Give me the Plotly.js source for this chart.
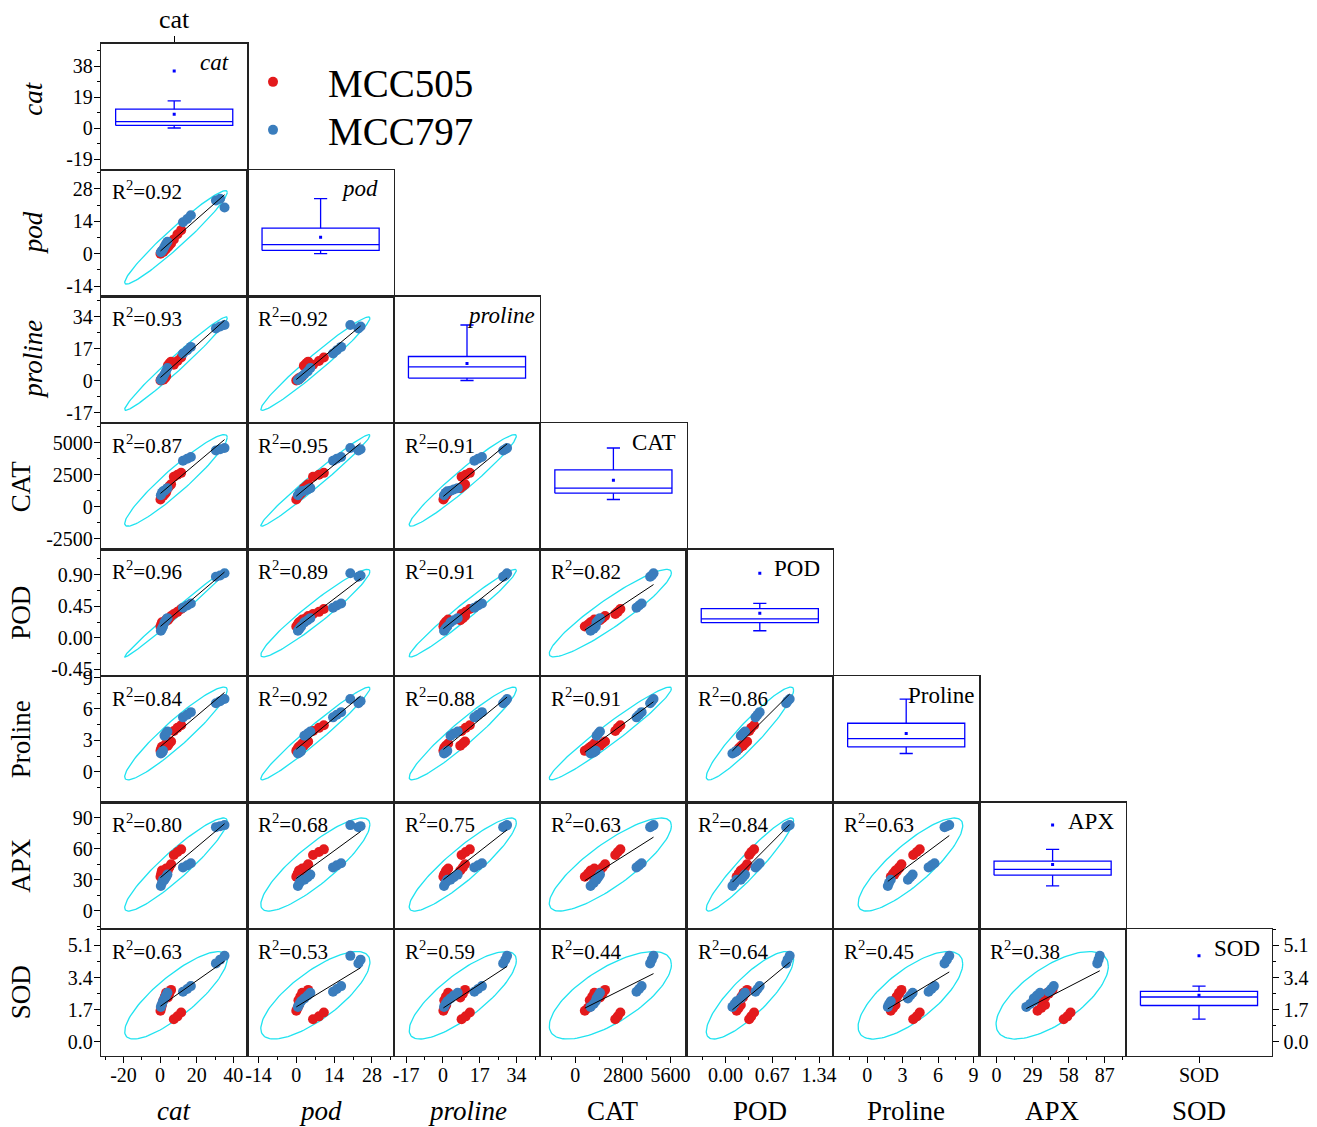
<!DOCTYPE html>
<html>
<head>
<meta charset="utf-8">
<script src="https://cdn.plot.ly/plotly-3.0.1.min.js"></script>
<style>html,body{margin:0;padding:0;background:#fff;}</style>
</head>
<body>
<div id="chart" style="width:1317px;height:1127px;"></div>
<script>
// Variables in matrix order (rows top to bottom, columns left to right)
const variables = ['cat', 'pod', 'proline', 'CAT', 'POD', 'Proline', 'APX', 'SOD'];
const italicVars = ['cat', 'pod', 'proline'];
const strains = ['MCC505', 'MCC797'];

// Strain of each sample: 4 treatments x 3 replicates per strain
const strain = [
  'MCC505','MCC505','MCC505','MCC505','MCC505','MCC505',
  'MCC505','MCC505','MCC505','MCC505','MCC505','MCC505',
  'MCC797','MCC797','MCC797','MCC797','MCC797','MCC797',
  'MCC797','MCC797','MCC797','MCC797','MCC797','MCC797'
];

// Measured values per sample
const cat     = [0.2, 0.6, 1.0, 1.8, 2.6, 3.3, 4.2, 5.0, 6.0, 7.5, 9.5, 11.5,
                 0.4, 1.0, 1.6, 2.4, 3.2, 4.0, 12.5, 14.8, 16.8, 30.5, 32.8, 35.2];
const pod     = [0.0, 0.5, 1.0, 0.8, 1.5, 2.2, 2.8, 3.6, 4.4, 6.2, 8.4, 10.2,
                 0.6, 1.2, 1.8, 3.0, 4.2, 5.2, 13.6, 15.0, 16.6, 23.0, 23.8, 20.0];
const proline = [0.2, 0.8, 1.5, 0.6, 1.4, 2.4, 8.0, 9.2, 10.2, 8.6, 10.5, 12.4,
                 0.5, 1.2, 2.0, 3.5, 5.0, 6.8, 14.5, 16.2, 18.0, 27.8, 28.8, 29.6];
const CAT     = [560, 750, 900, 850, 1000, 1120, 1450, 1600, 1750, 2350, 2500, 2650,
                 900, 1080, 1200, 1250, 1350, 1450, 3600, 3750, 3900, 4400, 4500, 4600];
const POD     = [0.16, 0.19, 0.22, 0.20, 0.23, 0.26, 0.25, 0.28, 0.31, 0.34, 0.37, 0.41,
                 0.10, 0.13, 0.16, 0.22, 0.25, 0.28, 0.43, 0.46, 0.49, 0.87, 0.89, 0.92];
const Proline = [2.0, 2.2, 2.4, 2.3, 2.5, 2.7, 2.5, 2.7, 2.9, 3.9, 4.2, 4.45,
                 1.75, 1.85, 2.0, 3.45, 3.65, 3.85, 5.2, 5.45, 5.7, 6.55, 6.75, 6.95];
const APX     = [33, 36, 39, 35, 38, 41, 39, 42, 45, 54, 57, 59.5,
                 24, 27, 30, 30, 32.5, 35, 42, 44, 46, 81, 82, 83];
const SOD     = [1.65, 1.8, 1.95, 2.2, 2.4, 2.6, 2.35, 2.55, 2.75, 1.2, 1.35, 1.55,
                 1.85, 2.0, 2.15, 2.3, 2.45, 2.6, 2.65, 2.8, 2.95, 4.15, 4.35, 4.55];

// Coefficients of determination printed in each lower panel (row by row)
const r2Pod     = ['0.92'];
const r2Proline = ['0.93', '0.92'];
const r2CAT     = ['0.87', '0.95', '0.91'];
const r2POD     = ['0.96', '0.89', '0.91', '0.82'];
const r2ProlineU= ['0.84', '0.92', '0.88', '0.91', '0.86'];
const r2APX     = ['0.80', '0.68', '0.75', '0.63', '0.84', '0.63'];
const r2SOD     = ['0.63', '0.53', '0.59', '0.44', '0.64', '0.45', '0.38'];

// Tick labels (x axes along the bottom, y axes along the left)
const xTicksCat = ['-20', '0', '20', '40'];
const xTicksPod = ['-14', '0', '14', '28'];
const xTicksProline = ['-17', '0', '17', '34'];
const xTicksCATu = ['0', '2800', '5600'];
const xTicksPODu = ['0.00', '0.67', '1.34'];
const xTicksProlineU = ['0', '3', '6', '9'];
const xTicksAPX = ['0', '29', '58', '87'];
const yTicksCat = ['-19', '0', '19', '38'];
const yTicksPod = ['-14', '0', '14', '28'];
const yTicksProline = ['-17', '0', '17', '34'];
const yTicksCATu = ['-2500', '0', '2500', '5000'];
const yTicksPODu = ['-0.45', '0.00', '0.45', '0.90'];
const yTicksProlineU = ['0', '3', '6', '9'];
const yTicksAPX = ['0', '30', '60', '90'];
const yTicksSOD = ['0.0', '1.7', '3.4', '5.1'];

const dataByVar = {cat, pod, proline, CAT, POD, Proline, APX, SOD};
const r2Rows = [[], r2Pod, r2Proline, r2CAT, r2POD, r2ProlineU, r2APX, r2SOD];
const xTicks = {cat: xTicksCat, pod: xTicksPod, proline: xTicksProline, CAT: xTicksCATu,
                POD: xTicksPODu, Proline: xTicksProlineU, APX: xTicksAPX};
const yTicks = {cat: yTicksCat, pod: yTicksPod, proline: yTicksProline, CAT: yTicksCATu,
                POD: yTicksPODu, Proline: yTicksProlineU, APX: yTicksAPX, SOD: yTicksSOD};

// Visible windows of each variable on the horizontal and vertical axes
const xRange = {cat: [-32.3, 47.7], pod: [-18.1, 36.1], proline: [-22.7, 44.9],
                CAT: [-2063, 6544], POD: [-0.556, 1.54], Proline: [-2.89, 9.5], APX: [-13.7, 103.9]};
const yRange = {cat: [-25.6, 52.1], pod: [-18.5, 36.2], proline: [-22.3, 44.7],
                CAT: [-3360, 6560], POD: [-0.546, 1.26], Proline: [-2.93, 9.15],
                APX: [-17.7, 104.9], SOD: [-0.72, 5.97]};

// Page geometry (pixels)
const W = 1317, H = 1127;
const LEFT = 101, COLW = 146.4, TOP = 43.5, ROWH = 126.5;
const FONT = 'Liberation Serif, Times New Roman, serif';
const COLORS = {MCC505: '#e31a1c', MCC797: '#3a7dbd'};
const LEGEND_TOP = {MCC505: 50, MCC797: 98};
const ELLIPSE_COLOR = '#1fe3f0';
const BOX_COLOR = '#0000ff';
const PANEL_LINE = '#222';
const diagInset = [16, 14, 3, 10, 11, 3, 10, 10];
const leftTitleShift = [-8, 0, 0, 0, 0, 0, 0, 0];

const N = variables.length;
const xd = j => [(LEFT + COLW * j) / W, (LEFT + COLW * (j + 1)) / W];
const yd = i => [1 - (TOP + ROWH * (i + 1)) / H, 1 - (TOP + ROWH * i) / H];
const label = v => italicVars.includes(v) ? '<i>' + v + '</i>' : v;

function baseAxis(domain, range, anchor) {
  return {domain, range, anchor, showgrid: false, zeroline: false, showline: true,
          mirror: true, linecolor: PANEL_LINE, linewidth: 1.2, ticks: '', showticklabels: false,
          fixedrange: true};
}
function addTicks(ax, labels, standoff) {
  const vals = labels.map(Number);
  Object.assign(ax, {
    ticks: 'outside', ticklen: 6, tickwidth: 1, tickcolor: '#000',
    showticklabels: true, tickmode: 'array', tickvals: vals, ticktext: labels,
    ticklabelstandoff: standoff,
    tickfont: {family: FONT, size: 20, color: '#000'},
    minor: {ticks: 'outside', ticklen: 3, tickwidth: 1, tickcolor: '#000',
            tickmode: 'linear', tick0: vals[0], dtick: (vals[1] - vals[0]) / 2}
  });
}

function mean(a) { return a.reduce((s, v) => s + v, 0) / a.length; }
function quantile(sorted, p) {
  const pos = (sorted.length - 1) * p, lo = Math.floor(pos), hi = Math.ceil(pos);
  return sorted[lo] + (sorted[hi] - sorted[lo]) * (pos - lo);
}

// 95% ellipse scale for a bivariate sample of size n
function ellipseScale(n) {
  const df2 = n - 2;
  const F = (df2 / 2) * (Math.pow(0.05, -2 / df2) - 1);
  return Math.sqrt(2 * (n - 1) / (n - 2) * F);
}

const traces = [];
const annotations = [];
const layout_axes = {};
let p = 0;

for (let i = 0; i < N; i++) {
  for (let j = 0; j <= i; j++) {
    p++;
    const xk = p === 1 ? 'xaxis' : 'xaxis' + p;
    const yk = p === 1 ? 'yaxis' : 'yaxis' + p;
    const xr = 'x' + (p === 1 ? '' : p);
    const yr = 'y' + (p === 1 ? '' : p);
    const vy = variables[i], vx = variables[j];
    const ys = dataByVar[vy];

    if (i === j) {
      // Box plot on the diagonal
      const xa = baseAxis(xd(j), [0, 1], yr);
      const ya = baseAxis(yd(i), yRange[vy], xr);
      if (i === 0) {
        Object.assign(xa, {side: 'top', ticks: 'outside', ticklen: 6, tickcolor: '#000',
          tickmode: 'array', tickvals: [0.5], ticktext: [vx], showticklabels: true,
          ticklabelstandoff: -2,
          tickfont: {family: FONT, size: 26, color: '#000'}});
        addTicks(ya, yTicks[vy], -3);
      }
      if (i === N - 1) {
        Object.assign(xa, {ticks: 'outside', ticklen: 6, tickcolor: '#000',
          tickmode: 'array', tickvals: [0.5], ticktext: [vx], showticklabels: true,
          ticklabelstandoff: -5,
          tickfont: {family: FONT, size: 20, color: '#000'}});
        addTicks(ya, yTicks[vy], 0);
        ya.side = 'right';
      }
      layout_axes[xk] = xa;
      layout_axes[yk] = ya;

      const s = ys.slice().sort((a, b) => a - b);
      const q1 = quantile(s, 0.25), med = quantile(s, 0.5), q3 = quantile(s, 0.75);
      const iqr = q3 - q1;
      const wHi = Math.max(...s.filter(v => v <= q3 + 1.5 * iqr));
      const wLo = Math.min(...s.filter(v => v >= q1 - 1.5 * iqr));
      const line = {color: BOX_COLOR, width: 1.3};
      traces.push({type: 'scatter', mode: 'lines', xaxis: xr, yaxis: yr, showlegend: false,
        x: [0.1, 0.9, 0.9, 0.1, 0.1], y: [q1, q1, q3, q3, q1], line, hoverinfo: 'skip'});
      traces.push({type: 'scatter', mode: 'lines', xaxis: xr, yaxis: yr, showlegend: false,
        x: [0.1, 0.9], y: [med, med], line, hoverinfo: 'skip'});
      traces.push({type: 'scatter', mode: 'lines', xaxis: xr, yaxis: yr, showlegend: false,
        x: [0.5, 0.5, null, 0.5, 0.5, null, 0.455, 0.545, null, 0.455, 0.545],
        y: [q3, wHi, null, q1, wLo, null, wHi, wHi, null, wLo, wLo], line, hoverinfo: 'skip'});
      const extremes = [Math.max(...s), Math.min(...s)].filter(v => v > wHi || v < wLo);
      traces.push({type: 'scatter', mode: 'markers', xaxis: xr, yaxis: yr, showlegend: false,
        x: [0.5].concat(extremes.map(() => 0.5)), y: [mean(ys)].concat(extremes),
        marker: {color: BOX_COLOR, size: 3, symbol: 'square'}, hoverinfo: 'skip'});

      annotations.push({xref: 'paper', yref: 'paper', showarrow: false,
        x: (LEFT + COLW * (j + 1) - diagInset[i]) / W, y: 1 - (TOP + ROWH * i + 19) / H,
        xanchor: 'right', yanchor: 'middle', text: label(vx),
        font: {family: FONT, size: 23, color: '#000'}});
    } else {
      // Scatter panel with regression line and 95% ellipse
      const xs = dataByVar[vx];
      const xa = baseAxis(xd(j), xRange[vx], yr);
      const ya = baseAxis(yd(i), yRange[vy], xr);
      if (i === N - 1) addTicks(xa, xTicks[vx], -5);
      if (j === 0) addTicks(ya, yTicks[vy], -3);
      layout_axes[xk] = xa;
      layout_axes[yk] = ya;

      const n = xs.length, mx = mean(xs), my = mean(ys);
      let sxx = 0, syy = 0, sxy = 0;
      for (let k = 0; k < n; k++) {
        sxx += (xs[k] - mx) ** 2; syy += (ys[k] - my) ** 2; sxy += (xs[k] - mx) * (ys[k] - my);
      }
      sxx /= n - 1; syy /= n - 1; sxy /= n - 1;
      const kS = ellipseScale(n);
      const a = Math.sqrt(sxx), b = sxy / a, c = Math.sqrt(Math.max(syy - b * b, 0));
      const ex = [], ey = [];
      for (let t = 0; t <= 120; t++) {
        const th = 2 * Math.PI * t / 120;
        ex.push(mx + kS * a * Math.cos(th));
        ey.push(my + kS * (b * Math.cos(th) + c * Math.sin(th)));
      }
      traces.push({type: 'scatter', mode: 'lines', xaxis: xr, yaxis: yr, showlegend: false,
        x: ex, y: ey, line: {color: ELLIPSE_COLOR, width: 1.3}, hoverinfo: 'skip'});

      strains.forEach((st, si) => {
        const idx = strain.map((s, k) => s === st ? k : -1).filter(k => k >= 0);
        traces.push({type: 'scatter', mode: 'markers', xaxis: xr, yaxis: yr,
          name: st, showlegend: p === 2, legend: si === 0 ? 'legend' : 'legend2',
          x: idx.map(k => xs[k]), y: idx.map(k => ys[k]),
          marker: {color: COLORS[st], size: 10, line: {width: 0}}});
      });

      const slope = sxy / sxx, icpt = my - slope * mx;
      const x0 = Math.min(...xs), x1 = Math.max(...xs);
      traces.push({type: 'scatter', mode: 'lines', xaxis: xr, yaxis: yr, showlegend: false,
        x: [x0, x1], y: [icpt + slope * x0, icpt + slope * x1],
        line: {color: '#000', width: 1}, hoverinfo: 'skip'});

      annotations.push({xref: 'paper', yref: 'paper', showarrow: false,
        x: (LEFT + COLW * j + 9) / W, y: 1 - (TOP + ROWH * i + 21) / H,
        xanchor: 'left', yanchor: 'middle', text: 'R<sup>2</sup>=' + r2Rows[i][j],
        font: {family: FONT, size: 21, color: '#000'}});
    }
  }
}

// Axis titles: left side (rotated) and along the bottom
variables.forEach((v, i) => {
  const italic = italicVars.includes(v);
  annotations.push({xref: 'paper', yref: 'paper', showarrow: false,
    x: (italic ? 33 : 21) / W, y: 1 - (TOP + ROWH * (i + 0.5) + leftTitleShift[i]) / H,
    xanchor: 'center', yanchor: 'middle', textangle: -90, text: label(v),
    font: {family: FONT, size: 27, color: '#000'}});
  annotations.push({xref: 'paper', yref: 'paper', showarrow: false,
    x: (LEFT + COLW * (i + 0.5)) / W, y: 1 - 1111 / H,
    xanchor: 'center', yanchor: 'middle', text: label(v),
    font: {family: FONT, size: 27, color: '#000'}});
});

function legendBox(st) {
  return {x: 218 / W, y: 1 - LEGEND_TOP[st] / H, xanchor: 'left', yanchor: 'top',
          font: {family: FONT, size: 39, color: '#000'}, itemwidth: 100,
          bgcolor: 'rgba(0,0,0,0)', borderwidth: 0};
}

const layout = Object.assign({
  width: W, height: H, margin: {l: 0, r: 0, t: 0, b: 0},
  paper_bgcolor: '#fff', plot_bgcolor: 'rgba(0,0,0,0)',
  font: {family: FONT, color: '#000', size: 20},
  showlegend: true,
  legend: legendBox('MCC505'),
  legend2: legendBox('MCC797'),
  annotations
}, layout_axes);

Plotly.newPlot('chart', traces, layout, {staticPlot: true, displayModeBar: false});
</script>
</body>
</html>
